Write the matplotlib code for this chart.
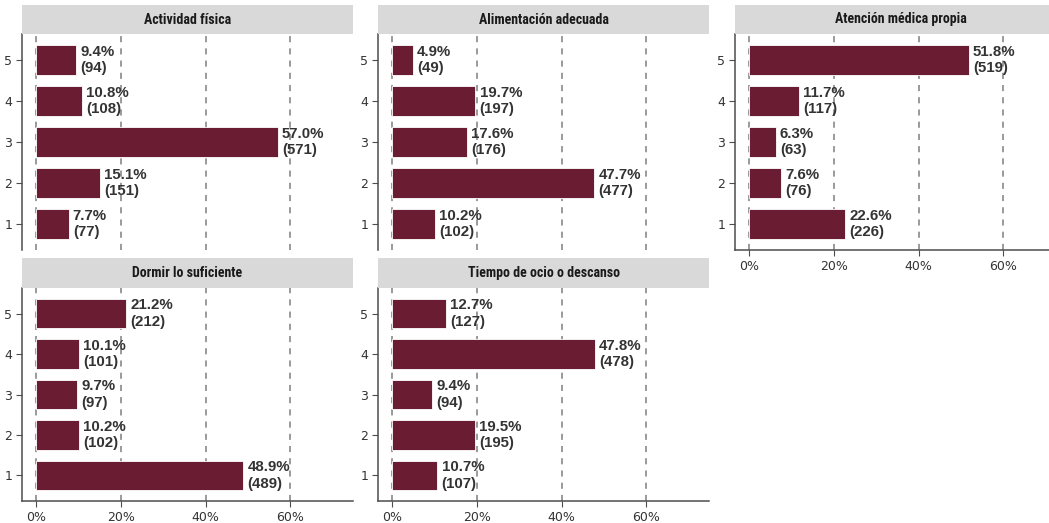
import numpy as np
import matplotlib.pyplot as plt

categorias = [1, 2, 3, 4, 5]
titulos = ['Actividad física', 'Alimentación adecuada', 'Atención médica propia',
           'Dormir lo suficiente', 'Tiempo de ocio o descanso']

actividad_pct = [7.7, 15.1, 57.0, 10.8, 9.4]
actividad_n = [77, 151, 571, 108, 94]
alimentacion_pct = [10.2, 47.7, 17.6, 19.7, 4.9]
alimentacion_n = [102, 477, 176, 197, 49]
atencion_pct = [22.6, 7.6, 6.3, 11.7, 51.8]
atencion_n = [226, 76, 63, 117, 519]
dormir_pct = [48.9, 10.2, 9.7, 10.1, 21.2]
dormir_n = [489, 102, 97, 101, 212]
ocio_pct = [10.7, 19.5, 9.4, 47.8, 12.7]
ocio_n = [107, 195, 94, 478, 127]

x_ticks = [0, 20, 40, 60]
x_ticklabels = ['0%', '20%', '40%', '60%']

pcts = [actividad_pct, alimentacion_pct, atencion_pct, dormir_pct, ocio_pct]
ns = [actividad_n, alimentacion_n, atencion_n, dormir_n, ocio_n]

W, H = 1049, 523
fig = plt.figure(figsize=(W / 100, H / 100), dpi=100)

col_left = [22, 378, 735]
panel_w = 331
rows = [(5, 34, 250), (258, 288, 501)]   # strip top, plot top, plot bottom (pixels)

COLOR = '#691C32'

for i in range(5):
    r, c = divmod(i, 3)
    s_top, p_top, p_bot = rows[r]
    x0 = col_left[c]
    ax = fig.add_axes([x0 / W, 1 - p_bot / H, panel_w / W, (p_bot - p_top) / H])
    strip = fig.add_axes([x0 / W, 1 - p_top / H, panel_w / W, (p_top - s_top) / H])
    strip.set_facecolor('#D9D9D9')
    strip.set_xticks([])
    strip.set_yticks([])
    for sp in strip.spines.values():
        sp.set_visible(False)
    strip.text(0.5, 0.5, titulos[i], ha='center', va='center', fontsize=10,
               fontweight='bold', color='#1A1A1A',
               family=['Roboto Condensed', 'Open Sans Condensed', 'Roboto'])

    for xt in x_ticks:
        ax.axvline(xt, color='#7F7F7F', linestyle=(0, (4, 4)), linewidth=1.1, zorder=0)
    ax.barh(categorias, pcts[i], height=0.72, color=COLOR, edgecolor='white',
            linewidth=0.6, zorder=2)
    for y, p, n in zip(categorias, pcts[i], ns[i]):
        ax.text(p + 1.0, y, f'{p:.1f}%\n({n})', ha='left', va='center',
                fontsize=10.8, fontweight='bold', color='#333333',
                linespacing=1.2, family='Liberation Sans', zorder=3)

    ax.set_xlim(-3.3, 74.8)
    ax.set_ylim(0.37, 5.63)
    ax.set_xticks(x_ticks)
    ax.set_xticklabels(x_ticklabels)
    ax.set_yticks(categorias)
    ax.tick_params(labelsize=9, colors='#4D4D4D', length=4, width=0.8, pad=3)
    ax.tick_params(axis='both', labelcolor='#333333')
    for sp in ['top', 'right']:
        ax.spines[sp].set_visible(False)
    for sp in ['left', 'bottom']:
        ax.spines[sp].set_color('#4D4D4D')
        ax.spines[sp].set_linewidth(1.1)
    # facet_wrap: x axis only at the bottom panel of each column
    if r == 0 and c < 2:
        ax.spines['bottom'].set_visible(False)
        ax.tick_params(axis='x', bottom=False, labelbottom=False)
    ax.set_facecolor('white')

fig.savefig('out.png', dpi=100)
